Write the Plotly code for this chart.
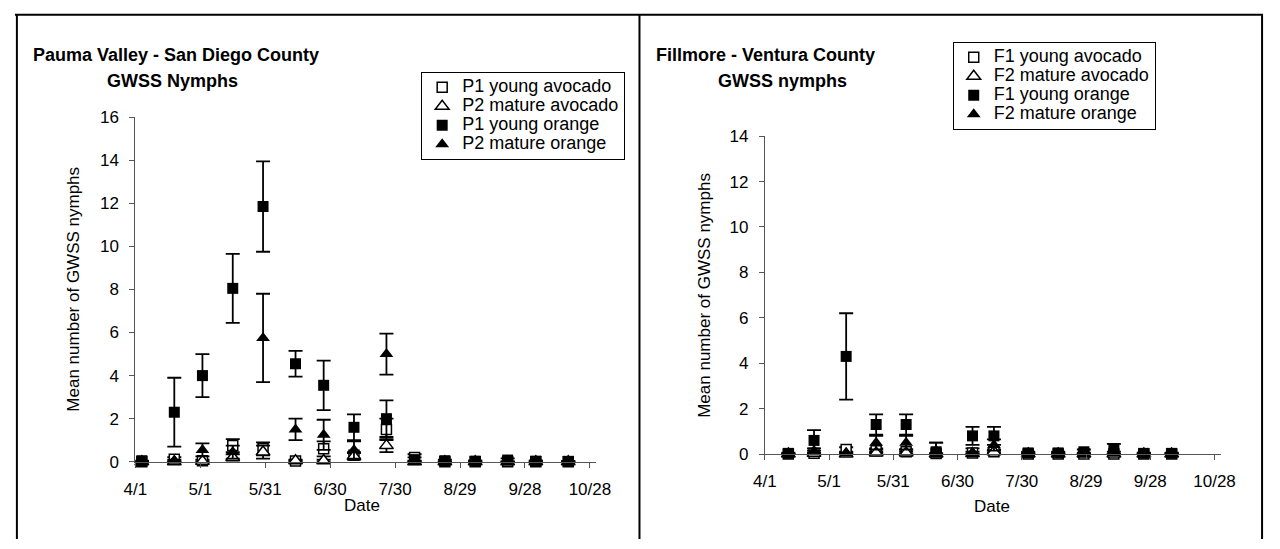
import plotly.graph_objects as go

YEAR = "2002"

# ---------------- Left panel: Pauma Valley ----------------
left_dates = ["04-04", "04-19", "05-02", "05-16", "05-30", "06-14", "06-27", "07-11",
              "07-26", "08-08", "08-22", "09-05", "09-20", "10-03", "10-18"]
p1_young_avocado = [0, 0.12, 0.05, 0.75, 0.6, 0.03, 0.6, 0.3, 1.5, 0.2, 0, 0, 0, 0, 0]
p1_young_avocado_err = [0, 0.1, 0.05, 0.3, 0.3, 0.03, 0.35, 0.15, 0.5, 0.15, 0, 0, 0, 0, 0]
p2_mature_avocado = [0, 0, 0.02, 0.2, 0.45, 0.05, 0.05, 0.25, 0.75, 0, 0, 0, 0, 0, 0]
p2_mature_avocado_err = [0, 0, 0, 0.15, 0.3, 0.05, 0.05, 0.15, 0.3, 0, 0, 0, 0, 0, 0]
p1_young_orange = [0.05, 2.3, 4.0, 8.05, 11.85, 4.55, 3.55, 1.6, 2.0, 0.1, 0.05, 0.03, 0.08, 0.03, 0.02]
p1_young_orange_err = [0, 1.6, 1.0, 1.6, 2.1, 0.6, 1.15, 0.6, 0.85, 0.1, 0.05, 0.03, 0.08, 0.03, 0.02]
p2_mature_orange = [0, 0.05, 0.55, 0.45, 5.75, 1.5, 1.25, 0.55, 5.0, 0, 0, 0, 0, 0, 0]
p2_mature_orange_err = [0, 0.05, 0.3, 0.3, 2.05, 0.5, 0.7, 0.4, 0.95, 0, 0, 0, 0, 0, 0]

# ---------------- Right panel: Fillmore ----------------
right_dates = ["04-12", "04-24", "05-09", "05-23", "06-06", "06-20", "07-07", "07-17",
               "08-02", "08-16", "08-28", "09-11", "09-25", "10-08"]
f1_young_avocado = [0, 0.03, 0.2, 0.15, 0.1, 0.02, 0.05, 0.1, 0, 0, 0, 0, 0, 0]
f1_young_avocado_err = [0, 0.03, 0.1, 0.1, 0.1, 0.02, 0.2, 0.1, 0, 0, 0, 0, 0, 0]
f2_mature_avocado = [0, 0.03, 0, 0.05, 0.05, 0, 0.02, 0.1, 0, 0, 0, 0, 0, 0]
f2_mature_avocado_err = [0, 0, 0, 0.05, 0.05, 0, 0, 0.05, 0, 0, 0, 0, 0, 0]
f1_young_orange = [0.03, 0.6, 4.3, 1.3, 1.3, 0.1, 0.8, 0.8, 0.05, 0.05, 0.1, 0.2, 0.03, 0.03]
f1_young_orange_err = [0.03, 0.45, 1.9, 0.45, 0.45, 0.4, 0.4, 0.4, 0.05, 0.05, 0.1, 0.25, 0.03, 0.03]
f2_mature_orange = [0, 0.15, 0.03, 0.5, 0.5, 0.15, 0.05, 0.4, 0.03, 0.03, 0.03, 0.05, 0.02, 0.02]
f2_mature_orange_err = [0, 0.1, 0.03, 0.3, 0.3, 0.35, 0.05, 0.25, 0.03, 0.03, 0.03, 0.05, 0.02, 0.02]

tick_dates = ["04-01", "05-01", "05-31", "06-30", "07-30", "08-29", "09-28", "10-28"]
tick_labels = ["4/1", "5/1", "5/31", "6/30", "7/30", "8/29", "9/28", "10/28"]

FONT = "Liberation Sans, Arial, sans-serif"
LEG_FONT_PX = 18


def d(lst):
    return [f"{YEAR}-{s}" for s in lst]


def marker(kind):
    if kind == "open_square":
        return dict(symbol="square", size=10, color="white", line=dict(color="black", width=1.5))
    if kind == "open_triangle":
        return dict(symbol="triangle-up", size=12, color="white", line=dict(color="black", width=1.5))
    if kind == "square":
        return dict(symbol="square", size=11, color="black", line=dict(color="black", width=0))
    return dict(symbol="triangle-up", size=12, color="black", line=dict(color="black", width=0))


def legend_name(name):
    return f"<span style='font-size:{LEG_FONT_PX}px'>{name}</span>"


fig = go.Figure()

left_series = [
    ("P1 young avocado", p1_young_avocado, p1_young_avocado_err, "open_square"),
    ("P2 mature avocado", p2_mature_avocado, p2_mature_avocado_err, "open_triangle"),
    ("P1 young orange", p1_young_orange, p1_young_orange_err, "square"),
    ("P2 mature orange", p2_mature_orange, p2_mature_orange_err, "triangle"),
]
right_series = [
    ("F1 young avocado", f1_young_avocado, f1_young_avocado_err, "open_square"),
    ("F2 mature avocado", f2_mature_avocado, f2_mature_avocado_err, "open_triangle"),
    ("F1 young orange", f1_young_orange, f1_young_orange_err, "square"),
    ("F2 mature orange", f2_mature_orange, f2_mature_orange_err, "triangle"),
]

ERR = dict(type="data", visible=True, color="black", thickness=1.8, width=7)

for name, vals, err, kind in left_series:
    fig.add_trace(go.Scatter(
        x=d(left_dates), y=vals, mode="markers", name=legend_name(name), marker=marker(kind),
        error_y=dict(array=err, **ERR),
        xaxis="x", yaxis="y", legend="legend", cliponaxis=False))

for name, vals, err, kind in right_series:
    fig.add_trace(go.Scatter(
        x=d(right_dates), y=vals, mode="markers", name=legend_name(name), marker=marker(kind),
        error_y=dict(array=err, **ERR),
        xaxis="x2", yaxis="y2", legend="legend2", cliponaxis=False))

W, H = 1280, 549


def px(x):
    return x / W


def py(y):
    return 1 - y / H


xaxis_common = dict(
    type="date", range=[f"{YEAR}-04-01", f"{YEAR}-10-31"],
    tickvals=d(tick_dates), ticktext=tick_labels,
    showgrid=False, zeroline=False, showline=True, linecolor="#555", linewidth=1,
    ticks="outside", ticklen=5, tickcolor="#555", tickwidth=1,
    tickfont=dict(family=FONT, size=17, color="black"), ticklabelstandoff=7,
)
yaxis_common = dict(
    showgrid=False, zeroline=False, showline=True, linecolor="#555", linewidth=1,
    ticks="outside", ticklen=5, tickcolor="#555", tickwidth=1, dtick=2,
    tickfont=dict(family=FONT, size=17, color="black"), ticklabelstandoff=7,
)

legend_common = dict(
    bgcolor="white", bordercolor="black", borderwidth=1,
    font=dict(family=FONT, size=12, color="black"),
    xanchor="left", yanchor="top", itemwidth=30, tracegroupgap=0,
)

fig.update_layout(
    width=W, height=H, margin=dict(l=0, r=0, t=0, b=0),
    paper_bgcolor="white", plot_bgcolor="white",
    xaxis=dict(domain=[px(126), px(597)], anchor="y", **xaxis_common),
    yaxis=dict(domain=[py(469), py(112)], range=[0, 16], anchor="x", **yaxis_common),
    xaxis2=dict(domain=[px(769), px(1235)], anchor="y2", **xaxis_common),
    yaxis2=dict(domain=[py(461), py(131.7)], range=[0, 14], anchor="x2", **yaxis_common),
    legend=dict(x=px(418), y=py(65), **legend_common),
    legend2=dict(x=px(961), y=py(34), **legend_common),
    showlegend=True,
)

TFONT = dict(family=FONT, size=18, color="black")
AFONT = dict(family=FONT, size=17, color="black")
annotations = [
    dict(text="<b>Pauma Valley - San Diego County</b>", x=px(19), y=py(48), xanchor="left", yanchor="middle",
         font=TFONT),
    dict(text="<b>GWSS Nymphs</b>", x=px(164), y=py(75), xanchor="center", yanchor="middle", font=TFONT),
    dict(text="<b>Fillmore - Ventura County</b>", x=px(656), y=py(48), xanchor="left", yanchor="middle",
         font=TFONT),
    dict(text="<b>GWSS nymphs</b>", x=px(787), y=py(75), xanchor="center", yanchor="middle", font=TFONT),
    dict(text="Mean number of GWSS nymphs", x=px(63), y=py(290), textangle=-90, xanchor="center",
         yanchor="middle", font=AFONT),
    dict(text="Mean number of GWSS nymphs", x=px(708), y=py(297), textangle=-90, xanchor="center",
         yanchor="middle", font=AFONT),
    dict(text="Date", x=px(358), y=py(514), xanchor="center", yanchor="middle", font=AFONT),
    dict(text="Date", x=px(1001), y=py(515), xanchor="center", yanchor="middle", font=AFONT),
]
for a in annotations:
    a.update(xref="paper", yref="paper", showarrow=False)
fig.update_layout(annotations=annotations)

frame = [
    (px(3), py(6), px(1278), py(6)),
    (px(5), py(6), px(5), py(549)),
    (px(641), py(6), px(641), py(549)),
    (px(1277), py(6), px(1277), py(549)),
]
fig.update_layout(shapes=[
    dict(type="line", xref="paper", yref="paper", x0=a, y0=b, x1=c, y1=e,
         line=dict(color="black", width=2)) for a, b, c, e in frame
])

fig.write_html("out.html", config={"displayModeBar": False},
               post_script="document.body.style.margin='0px';")
